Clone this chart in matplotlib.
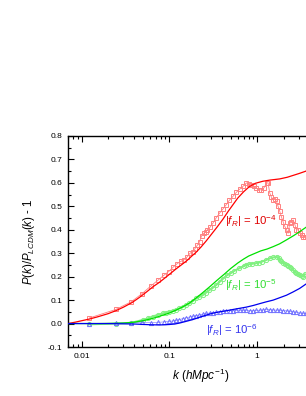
import matplotlib
matplotlib.use("Agg")
import matplotlib.pyplot as plt
from matplotlib.ticker import FixedLocator, FuncFormatter, MultipleLocator, LogLocator, NullFormatter

plt.rcParams['font.family'] = ['Liberation Sans', 'DejaVu Sans']
plt.rcParams['mathtext.fontset'] = 'custom'
plt.rcParams['mathtext.rm'] = 'Liberation Sans'
plt.rcParams['mathtext.it'] = 'Liberation Sans:italic'
plt.rcParams['mathtext.bf'] = 'Liberation Sans:bold'
plt.rcParams['axes.unicode_minus'] = False

# ---------------- data ----------------
# theory curves
k_th4 = [0.007, 0.0085, 0.01, 0.0122, 0.015, 0.02, 0.0246, 0.03, 0.0377, 0.045, 0.055, 0.065,
         0.077, 0.09, 0.1, 0.119, 0.14, 0.16, 0.18, 0.2, 0.23, 0.262, 0.3, 0.35, 0.407, 0.47,
         0.53, 0.6, 0.7, 0.82, 0.95, 1.16, 1.4, 1.81, 2.2, 2.57, 3.0, 3.58, 5.0, 7.5]
v_th4 = [0.0, 0.006, 0.012, 0.019, 0.028, 0.042, 0.055, 0.07, 0.09, 0.11, 0.135, 0.157,
         0.176, 0.196, 0.21, 0.233, 0.253, 0.27, 0.288, 0.303, 0.327, 0.352, 0.38, 0.412, 0.445, 0.48,
         0.507, 0.535, 0.562, 0.585, 0.598, 0.607, 0.612, 0.617, 0.624, 0.632, 0.64, 0.65, 0.68, 0.72]

k_th5 = [0.007, 0.02, 0.03, 0.04, 0.05, 0.06, 0.07, 0.08, 0.1, 0.12, 0.14, 0.17, 0.2, 0.24,
         0.29, 0.35, 0.42, 0.5, 0.6, 0.7, 0.8, 0.95, 1.1, 1.3, 1.52, 1.8, 2.16, 2.6, 3.05,
         3.58, 5.0, 7.5]
v_th5 = [0.0, 0.0, 0.002, 0.006, 0.012, 0.019, 0.026, 0.033, 0.045, 0.058, 0.07, 0.088, 0.108,
         0.132, 0.158, 0.185, 0.21, 0.235, 0.258, 0.275, 0.288, 0.3, 0.31, 0.318, 0.328, 0.34,
         0.357, 0.375, 0.392, 0.41, 0.45, 0.5]

k_th6 = [0.007, 0.02, 0.04, 0.06, 0.077, 0.09, 0.1, 0.115, 0.13, 0.15, 0.185, 0.22, 0.262,
         0.31, 0.373, 0.45, 0.53, 0.63, 0.75, 0.9, 1.07, 1.25, 1.52, 1.8, 2.16, 2.57, 3.05,
         3.58, 5.0, 7.5]
v_th6 = [0.0, 0.0, -0.002, -0.005, -0.006, -0.005, -0.004, -0.002, 0.002, 0.008, 0.017, 0.027,
         0.036, 0.044, 0.05, 0.055, 0.06, 0.065, 0.07, 0.077, 0.085, 0.092, 0.1, 0.11, 0.121,
         0.135, 0.15, 0.168, 0.2, 0.25]

# simulation measurements
k_d4 = [0.0123, 0.0245, 0.0368, 0.049, 0.0614, 0.0736, 0.0859, 0.0982, 0.110, 0.123, 0.135,
        0.147, 0.160, 0.172, 0.184, 0.196, 0.209, 0.221, 0.233, 0.245, 0.258, 0.270, 0.29,
        0.313, 0.34, 0.373, 0.41, 0.444, 0.48, 0.529, 0.58, 0.64, 0.689, 0.753, 0.80, 0.859,
        0.92, 0.98, 1.05, 1.12, 1.2, 1.28, 1.33, 1.39, 1.45, 1.52, 1.59, 1.66, 1.73, 1.81,
        1.89, 1.97, 2.06, 2.16, 2.25, 2.35, 2.46, 2.57, 2.7, 2.8, 2.93, 3.05, 3.2, 3.33, 3.5]
v_d4 = [0.024, 0.06, 0.093, 0.128, 0.16, 0.184, 0.205, 0.222, 0.24, 0.256, 0.265,
        0.273, 0.285, 0.3, 0.307, 0.32, 0.335, 0.35, 0.375, 0.385, 0.39, 0.4, 0.41,
        0.428, 0.45, 0.471, 0.49, 0.507, 0.525, 0.542, 0.56, 0.575, 0.585, 0.6, 0.595, 0.592,
        0.585, 0.578, 0.57, 0.571, 0.58, 0.6, 0.6, 0.557, 0.54, 0.528, 0.53, 0.521, 0.5, 0.478,
        0.455, 0.435, 0.415, 0.4, 0.385, 0.428, 0.435, 0.442, 0.42, 0.4, 0.4, 0.385, 0.378, 0.371, 0.37]

k_d5 = [0.0123, 0.0245, 0.0368, 0.0495, 0.057, 0.0645, 0.074, 0.0838, 0.092, 0.1, 0.109,
        0.119, 0.13, 0.142, 0.155, 0.169, 0.185, 0.202, 0.22, 0.24, 0.262, 0.286, 0.313,
        0.341, 0.373, 0.41, 0.45, 0.5, 0.55, 0.62, 0.7, 0.75, 0.81, 0.88, 0.96, 1.04, 1.13,
        1.25, 1.39, 1.52, 1.66, 1.75, 1.81, 1.89, 1.97, 2.06, 2.16, 2.25, 2.35, 2.46, 2.57,
        2.7, 2.8, 2.93, 3.05, 3.2, 3.33, 3.5]
v_d5 = [-0.003, 0.0, 0.003, 0.015, 0.022, 0.03, 0.037, 0.043, 0.047, 0.05, 0.053,
        0.058, 0.065, 0.071, 0.078, 0.086, 0.096, 0.107, 0.114, 0.121, 0.132, 0.143, 0.153,
        0.164, 0.178, 0.192, 0.205, 0.215, 0.225, 0.235, 0.245, 0.25, 0.253, 0.255, 0.257, 0.26, 0.264,
        0.27, 0.278, 0.282, 0.285, 0.28, 0.27, 0.265, 0.26, 0.255, 0.25, 0.247, 0.243, 0.235, 0.228,
        0.22, 0.214, 0.21, 0.207, 0.203, 0.2, 0.21]

k_d6 = [0.0123, 0.0245, 0.0368, 0.049, 0.0614, 0.0736, 0.0859, 0.0982, 0.11, 0.12, 0.13,
        0.142, 0.155, 0.17, 0.185, 0.2, 0.22, 0.24, 0.262, 0.29, 0.313, 0.34, 0.373, 0.41,
        0.444, 0.49, 0.53, 0.58, 0.63, 0.69, 0.75, 0.82, 0.9, 0.98, 1.07, 1.17, 1.27, 1.4,
        1.52, 1.66, 1.81, 1.97, 2.16, 2.35, 2.57, 2.8, 3.05, 3.3, 3.58]
v_d6 = [0.0, 0.002, 0.004, 0.005, 0.004, 0.005, 0.007, 0.009, 0.011, 0.014, 0.017,
        0.021, 0.025, 0.028, 0.031, 0.034, 0.037, 0.04, 0.043, 0.045, 0.046, 0.048, 0.05, 0.052,
        0.054, 0.055, 0.055, 0.056, 0.057, 0.056, 0.056, 0.055, 0.055, 0.056, 0.057, 0.058, 0.06, 0.059,
        0.058, 0.057, 0.057, 0.055, 0.054, 0.052, 0.05, 0.048, 0.045, 0.044, 0.043]

x_ticks = [0.01, 0.1, 1, 10]
y_ticks = [-0.1, 0.0, 0.1, 0.2, 0.3, 0.4, 0.5, 0.6, 0.7, 0.8]

labels = [r'$|f_R|$ = 10$^{-4}$', r'$|f_R|$ = 10$^{-5}$', r'$|f_R|$ = 10$^{-6}$']
label_k = [0.84, 0.85, 0.52]
label_v = [0.438, 0.164, -0.029]

# ---------------- figure ----------------
fig = plt.figure(figsize=(3.06, 3.96), dpi=100)
ax = fig.add_axes([68 / 306, 1 - 347 / 396, (334 - 68) / 306, (347 - 136) / 396])

c_red, c_green, c_blue = '#ff0000', '#00e000', '#0000ee'
c_red_l, c_green_l, c_blue_l = '#ff8080', '#80f080', '#7070ff'

ax.plot(k_d4, v_d4, '-', color=c_red_l, lw=0.6, marker='s', ms=3.0, mfc='none', mec=c_red_l, mew=0.7, zorder=2)
ax.plot(k_d5, v_d5, 'none', color=c_green_l, marker='o', ms=3.0, mfc='none', mec=c_green_l, mew=0.7, zorder=2)
ax.plot(k_d6, v_d6, '-', color=c_blue_l, lw=0.4, marker='^', ms=3.0, mfc='none', mec=c_blue_l, mew=0.7, zorder=2)

ax.plot(k_th4, v_th4, '-', color=c_red, lw=0.9, zorder=3)
ax.plot(k_th5, v_th5, '-', color=c_green, lw=0.9, zorder=3)
ax.plot(k_th6, v_th6, '-', color=c_blue, lw=0.9, zorder=3)

for txt, kk, vv, col in zip(labels, label_k, label_v, ['#e00000', '#33dd33', '#3333ee']):
    ax.text(kk, vv, txt, color=col, fontsize=8.2, ha='center', va='center')

ax.set_xscale('log')
ax.set_xlim(0.007, 7.5)
ax.set_ylim(-0.1, 0.8)

ax.xaxis.set_major_locator(FixedLocator(x_ticks))
ax.xaxis.set_minor_locator(LogLocator(base=10, subs=range(2, 10)))
ax.xaxis.set_minor_formatter(NullFormatter())
ax.xaxis.set_major_formatter(FuncFormatter(lambda v, p: '%g' % v))
ax.yaxis.set_major_locator(FixedLocator(y_ticks))
ax.yaxis.set_minor_locator(MultipleLocator(0.05))
ax.yaxis.set_major_formatter(FuncFormatter(lambda v, p: '%.1f' % v))

ax.tick_params(which='both', direction='in', top=True, right=True, labelsize=6, width=0.8)
ax.tick_params(which='major', length=4.5, pad=4)
ax.tick_params(which='minor', length=2.5)
for s in ax.spines.values():
    s.set_linewidth(1.0)

ax.set_ylabel(r'$P(k)/P_{LCDM}(k)$ - 1', fontsize=8.3)
ax.set_xlabel(r'$k$ $(hMpc^{-1})$', fontsize=8.5)
ax.yaxis.set_label_coords(-0.115, 0.5)
ax.xaxis.set_label_coords(0.5, -0.095)

fig.savefig('out.png', dpi=100)
